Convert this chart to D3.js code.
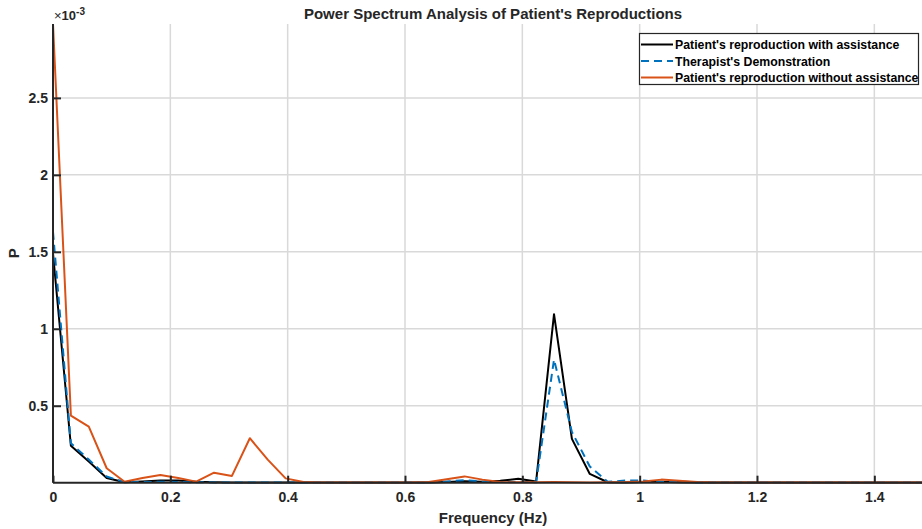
<html>
  <head>
    <meta charset="UTF-8">
    <script src="https://d3js.org/d3.v7.min.js"></script>
    <title>Power Spectrum</title>
    <style>
      body { margin: 0; background: #fff; }
      text { font-family: "Liberation Sans", Arial, sans-serif; font-weight: bold; fill: #262626; }
    </style>
  </head>
  <body>
  <script type="text/javascript">

    // size of the picture
    var width = 922;
    var height = 529;

    // frequency bins (Hz)
    var freq = [0, 0.0305, 0.061, 0.0915, 0.122, 0.1525, 0.183, 0.2135, 0.244, 0.2745,
                0.305, 0.3355, 0.366, 0.3965, 0.427, 0.4575, 0.488, 0.5185, 0.549, 0.5795,
                0.61, 0.6405, 0.671, 0.7015, 0.732, 0.7625, 0.793, 0.8235, 0.854, 0.8845,
                0.915, 0.9455, 0.976, 1.0065, 1.037, 1.0675, 1.098, 1.1285, 1.159, 1.1895,
                1.22, 1.2505, 1.281, 1.3115, 1.342, 1.3725, 1.403, 1.4335, 1.464, 1.4945];

    // power values, in units of 1e-3
    var withAssist = [1.49, 0.24, 0.137, 0.03, 0.003, 0.008, 0.015, 0.014, 0.006, 0.003,
                      0.002, 0.002, 0.002, 0.002, 0.001, 0.001, 0.001, 0.001, 0.001, 0.001,
                      0.001, 0.001, 0.005, 0.01, 0.006, 0.012, 0.026, 0.008, 1.095, 0.285,
                      0.057, 0.003, 0.002, 0.004, 0.006, 0.003, 0.001, 0.001, 0.001, 0.001,
                      0.001, 0.001, 0.001, 0.001, 0.001, 0.001, 0.001, 0.001, 0.001, 0.001];

    var therapist = [1.63, 0.256, 0.15, 0.04, 0.004, 0.004, 0.006, 0.005, 0.003, 0.002,
                     0.002, 0.002, 0.002, 0.002, 0.002, 0.002, 0.002, 0.002, 0.002, 0.002,
                     0.002, 0.002, 0.008, 0.016, 0.008, 0.004, 0.005, 0.003, 0.80, 0.33,
                     0.105, 0.006, 0.014, 0.014, 0.004, 0.008, 0.002, 0.001, 0.001, 0.001,
                     0.001, 0.001, 0.001, 0.001, 0.001, 0.001, 0.001, 0.001, 0.001, 0.001];

    var withoutAssist = [2.98, 0.436, 0.364, 0.094, 0.006, 0.03, 0.05, 0.03, 0.007, 0.065,
                         0.044, 0.289, 0.15, 0.028, 0.004, 0.002, 0.002, 0.002, 0.002, 0.002,
                         0.002, 0.004, 0.022, 0.041, 0.02, 0.004, 0.003, 0.003, 0.004, 0.003,
                         0.002, 0.003, 0.004, 0.008, 0.02, 0.012, 0.004, 0.002, 0.002, 0.002,
                         0.002, 0.002, 0.002, 0.002, 0.002, 0.002, 0.002, 0.002, 0.002, 0.002];

    var xTicks = [0, 0.2, 0.4, 0.6, 0.8, 1, 1.2, 1.4];
    var yTicks = [0.5, 1, 1.5, 2, 2.5];

    var seriesNames = ["Patient's reproduction with assistance",
                       "Therapist's Demonstration",
                       "Patient's reproduction without assistance"];
    var seriesColors = ["#000000", "#0072BD", "#D95319"];
    var seriesDash = [null, "8,5", null];

    // axes box (right side runs past the picture edge)
    var plotLeft = 53, plotTop = 24, plotRight = 933, plotBottom = 482.7;

    var svg = d3.select('body')
                .append('svg')
                .attr('width', width)
                .attr('height', height);

    var x = d3.scaleLinear().domain([0, 1.5]).range([plotLeft, plotRight]);
    var y = d3.scaleLinear().domain([0, 2.98]).range([plotBottom, plotTop]);

    // grid lines
    svg.append('g')
        .selectAll('line')
        .data(xTicks.filter(function(d){ return d > 0; }))
        .enter()
        .append('line')
        .attr('x1', function(d){ return x(d); })
        .attr('x2', function(d){ return x(d); })
        .attr('y1', plotTop)
        .attr('y2', plotBottom)
        .style('stroke', '#d9d9d9')
        .style('stroke-width', 1.5);

    svg.append('g')
        .selectAll('line')
        .data(yTicks)
        .enter()
        .append('line')
        .attr('x1', plotLeft)
        .attr('x2', plotRight)
        .attr('y1', function(d){ return y(d); })
        .attr('y2', function(d){ return y(d); })
        .style('stroke', '#d9d9d9')
        .style('stroke-width', 1.5);

    // the three spectra
    var allSeries = [withAssist, therapist, withoutAssist];
    var line = d3.line()
        .x(function(d, i){ return x(freq[i]); })
        .y(function(d){ return y(d); });

    svg.append('defs').append('clipPath').attr('id', 'clip')
        .append('rect').attr('x', plotLeft - 2).attr('y', plotTop - 2)
        .attr('width', plotRight - plotLeft + 4).attr('height', plotBottom - plotTop + 4);

    svg.append('g')
        .attr('clip-path', 'url(#clip)')
        .selectAll('path')
        .data(allSeries)
        .enter()
        .append('path')
        .attr('d', line)
        .style('fill', 'none')
        .style('stroke', function(d, i){ return seriesColors[i]; })
        .style('stroke-dasharray', function(d, i){ return seriesDash[i]; })
        .style('stroke-width', 2)
        .style('stroke-linejoin', 'round');

    // axes
    var xAxis = d3.axisBottom(x)
        .tickValues(xTicks)
        .tickSizeInner(-7)
        .tickSizeOuter(0)
        .tickPadding(9)
        .tickFormat(function(d){ return d3.format('')(d); });

    var gx = svg.append('g')
        .attr('transform', 'translate(0,' + plotBottom + ')')
        .call(xAxis);

    var yAxis = d3.axisLeft(y)
        .tickValues(yTicks)
        .tickSizeInner(-8)
        .tickSizeOuter(0)
        .tickPadding(5)
        .tickFormat(function(d){ return d3.format('')(d); });

    var gy = svg.append('g')
        .attr('transform', 'translate(' + plotLeft + ',0)')
        .call(yAxis);

    [gx, gy].forEach(function(g){
      g.selectAll('.domain').style('stroke', '#262626').style('stroke-width', 2);
      g.selectAll('.tick line').style('stroke', '#262626').style('stroke-width', 2);
      g.selectAll('text')
        .style('font-size', '14px')
        .style('font-family', '"Liberation Sans", Arial, sans-serif')
        .style('font-weight', 'bold')
        .style('fill', '#262626');
    });
    gy.select('.domain').attr('d', 'M0,' + plotBottom + 'V' + plotTop);
    gx.select('.domain').attr('d', 'M' + plotLeft + ',0H' + plotRight);

    // exponent label
    var expo = svg.append('text')
        .attr('x', plotLeft + 1)
        .attr('y', 20)
        .style('font-size', '13px');
    expo.append('tspan').text('\u00d7').style('font-weight', 'normal');
    expo.append('tspan').text('10');
    expo.append('tspan').text('-3').attr('dy', -5).style('font-size', '10px');

    // title and axis labels
    svg.append('text')
        .attr('x', (plotLeft + plotRight) / 2)
        .attr('y', 19)
        .attr('text-anchor', 'middle')
        .style('font-size', '15px')
        .text("Power Spectrum Analysis of Patient's Reproductions");

    svg.append('text')
        .attr('x', (plotLeft + plotRight) / 2)
        .attr('y', 523)
        .attr('text-anchor', 'middle')
        .style('font-size', '15px')
        .text('Frequency (Hz)');

    svg.append('text')
        .attr('transform', 'translate(19,' + y(1.49) + ') rotate(-90)')
        .attr('text-anchor', 'middle')
        .style('font-size', '15px')
        .text('P');

    // legend
    var legend = svg.append('g');
    legend.append('rect')
        .attr('x', 639.5)
        .attr('y', 33.5)
        .attr('width', 279)
        .attr('height', 51)
        .style('fill', '#ffffff')
        .style('stroke', '#262626')
        .style('stroke-width', 1.2);

    seriesNames.forEach(function(name, i){
      var ly = 44.5 + i * 16.5;
      legend.append('line')
          .attr('x1', 641)
          .attr('x2', 673)
          .attr('y1', ly)
          .attr('y2', ly)
          .style('stroke', seriesColors[i])
          .style('stroke-dasharray', seriesDash[i])
          .style('stroke-width', 2);
      legend.append('text')
          .attr('x', 675)
          .attr('y', ly + 4.5)
          .style('font-size', '12.3px')
          .style('fill', '#000')
          .text(name);
    });

  </script>
  </body>
</html>
